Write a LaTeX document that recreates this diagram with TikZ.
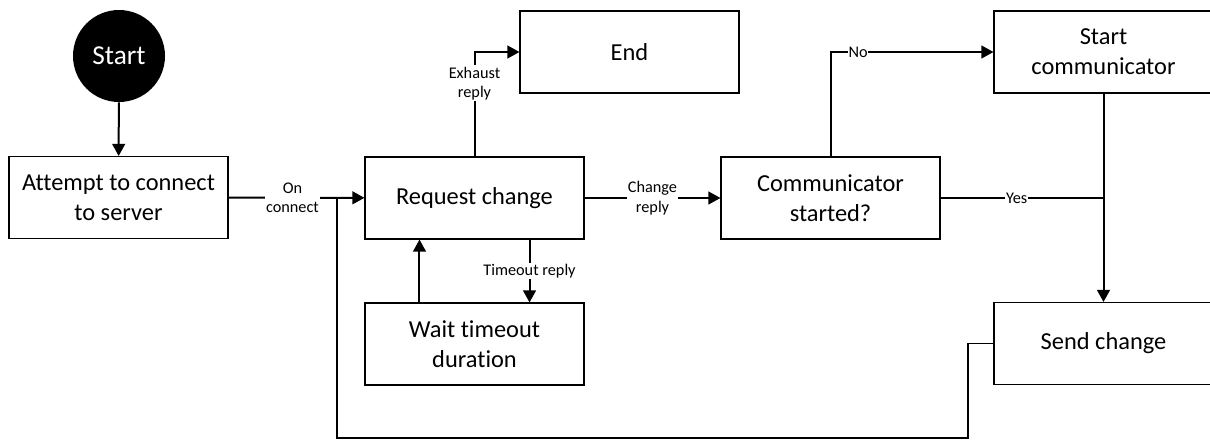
\documentclass[tikz,border=0pt]{standalone}
\usepackage{fontspec}
\setmainfont{Carlito}[Ligatures={NoCommon}]
\usetikzlibrary{arrows.meta,calc}
\tikzset{
  box/.style={draw=black, line width=0.8pt, minimum width=164.25pt, minimum height=61.5pt, align=center, font=\fontsize{18.3}{22.5}\selectfont, inner sep=2pt},
  startnode/.style={circle, fill=black, text=white, minimum size=69pt, inner sep=0pt, font=\fontsize{20.5}{24}\selectfont},
  conn/.style={line width=1.5pt, -{Triangle[length=9pt,width=9.5pt]}},
  plain/.style={line width=1.3pt},
  lbl/.style={fill=white, inner sep=1pt, align=center, font=\fontsize{12.2}{14.5}\selectfont},
}
\begin{document}
\begin{tikzpicture}[x=0.75pt, y=-0.75pt]
\useasboundingbox (0,0) rectangle (1210,440);
\clip (0,0) rectangle (1210,440);
\node[startnode] (start) at (119,56) {Start};
\node[box] (attempt) at (118.5,197.5) {Attempt to connect\\to server};
\node[box] (request) at (474.5,198) {Request change};
\node[box] (endn) at (629.5,52) {End};
\node[box] (comm) at (830.5,198) {Communicator\\started?};
\node[box] (startc) at (1103.5,52) {Start\\communicator};
\node[box] (send) at (1103.5,343.5) {Send change};
\node[box] (wait) at (474.5,344) {Wait timeout\\duration};
\coordinate (jn) at (337,198);
\coordinate (c1) at (968,343.5);
\coordinate (c2) at (968,438);
\coordinate (c3) at (337,438);

\draw[conn] (start) -- (attempt);
\draw[conn] (attempt) -- node[lbl, xshift=-3pt]{On\\connect} (request);
\draw[plain] (send.west) -- (c1) -- (c2) -- (c3) -- (jn);
\draw[conn] (request.north) |- node[lbl, pos=0.35]{Exhaust\\reply} (endn.west);
\draw[conn] (request) -- node[lbl]{Change\\reply} (comm);
\draw[conn] (comm.north) |- node[lbl, pos=0.585, inner sep=0.5pt]{No} (startc.west);
\draw[conn] (startc) -- (send);
\draw[plain] (comm.east) -- node[lbl, inner sep=0.5pt, xshift=-4pt]{Yes} (send.north |- comm.east);
\draw[conn] ($(wait.north west)!0.25!(wait.north east)$) -- ($(request.south west)!0.25!(request.south east)$);
\draw[conn] ($(request.south west)!0.75!(request.south east)$) -- node[lbl]{Timeout reply} ($(wait.north west)!0.75!(wait.north east)$);
\end{tikzpicture}
\end{document}
